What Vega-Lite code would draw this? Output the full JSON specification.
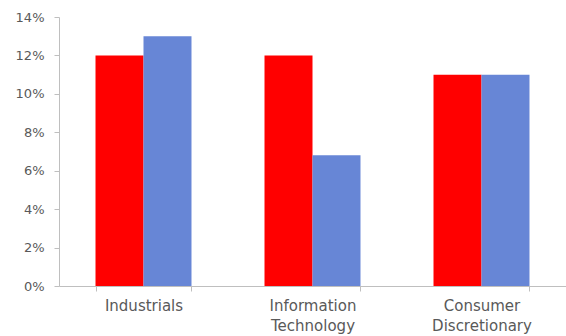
{
  "$schema": "https://vega.github.io/schema/vega-lite/v6.json",
  "width": 507,
  "height": 269,
  "autosize": {"type": "none"},
  "padding": {"left": 59, "top": 17, "right": 0, "bottom": 50},
  "background": "white",
  "config": {"view": {"stroke": null}, "font": "DejaVu Sans"},
  "data": {"values": [
    {"sector": "Industrials", "series": "A", "value": 0.12},
    {"sector": "Industrials", "series": "B", "value": 0.13},
    {"sector": "Information Technology", "series": "A", "value": 0.12},
    {"sector": "Information Technology", "series": "B", "value": 0.068},
    {"sector": "Consumer Discretionary", "series": "A", "value": 0.11},
    {"sector": "Consumer Discretionary", "series": "B", "value": 0.11}
  ]},
  "mark": {"type": "bar"},
  "encoding": {
    "x": {
      "field": "sector", "type": "nominal", "sort": null,
      "scale": {"paddingInner": 0.432, "paddingOuter": 0.216},
      "axis": {
        "title": null, "labelAngle": 0, "tickBand": "extent",
        "labelExpr": "split(datum.label, ' ')",
        "labelFontSize": 15, "labelColor": "#595959", "labelPadding": 7,
        "labelLineHeight": 20,
        "domainColor": "#bfbfbf", "tickColor": "#bfbfbf", "tickSize": 5
      }
    },
    "xOffset": {"field": "series", "type": "nominal", "scale": {"paddingInner": 0, "paddingOuter": 0}},
    "y": {
      "field": "value", "type": "quantitative",
      "scale": {"domain": [0, 0.14]},
      "axis": {
        "title": null, "format": ".0%", "values": [0, 0.02, 0.04, 0.06, 0.08, 0.1, 0.12, 0.14],
        "grid": false, "labelFontSize": 13, "labelColor": "#595959", "labelPadding": 10,
        "domainColor": "#bfbfbf", "tickColor": "#bfbfbf", "tickSize": 5
      }
    },
    "color": {
      "field": "series", "type": "nominal",
      "scale": {"domain": ["A", "B"], "range": ["#FF0000", "#6786D6"]},
      "legend": null
    }
  }
}
